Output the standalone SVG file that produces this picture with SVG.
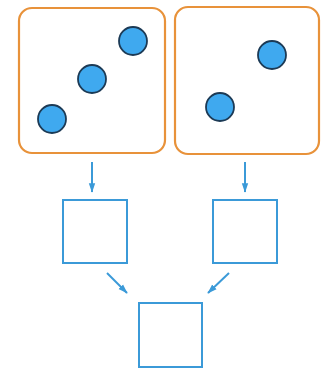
<svg xmlns="http://www.w3.org/2000/svg" width="322" height="369" viewBox="0 0 322 369">
<style>
.die{fill:#fff;stroke:#e8923a;stroke-width:2.2}
.dot{fill:#3fa9ef;stroke:#1c3a55;stroke-width:1.8}
.box{fill:#fff;stroke:#3b9ad8;stroke-width:2}
.conn{stroke:#3b9ad8;stroke-width:2;fill:none}
</style>
<defs>
<marker id="ah" viewBox="0 0 12 10" refX="11" refY="5" markerWidth="5" markerHeight="4" orient="auto" markerUnits="strokeWidth">
<path d="M0,1 L12,5 L0,9 z" fill="#3b9ad8"/>
</marker>
</defs>
<rect width="322" height="369" fill="#fff"/>
<g id="die-left">
<rect class="die" x="19" y="8" width="146" height="145" rx="13"/>
<circle class="dot" cx="133" cy="41" r="14"/>
<circle class="dot" cx="92" cy="79" r="14"/>
<circle class="dot" cx="52" cy="119" r="14"/>
</g>
<g id="die-right">
<rect class="die" x="175" y="7" width="144" height="147" rx="13"/>
<circle class="dot" cx="272" cy="55" r="14"/>
<circle class="dot" cx="220" cy="107" r="14"/>
</g>
<g id="box-left"><rect class="box" x="63" y="200" width="64" height="63"/></g>
<g id="box-right"><rect class="box" x="213" y="200" width="64" height="63"/></g>
<g id="box-bottom"><rect class="box" x="139" y="303" width="63" height="64"/></g>
<g id="connectors">
<line class="conn" x1="92" y1="162" x2="92" y2="192" marker-end="url(#ah)"/>
<line class="conn" x1="245" y1="162" x2="245" y2="192" marker-end="url(#ah)"/>
<line class="conn" x1="107" y1="273" x2="127" y2="293" marker-end="url(#ah)"/>
<line class="conn" x1="229" y1="273" x2="208" y2="293" marker-end="url(#ah)"/>
</g>
</svg>
